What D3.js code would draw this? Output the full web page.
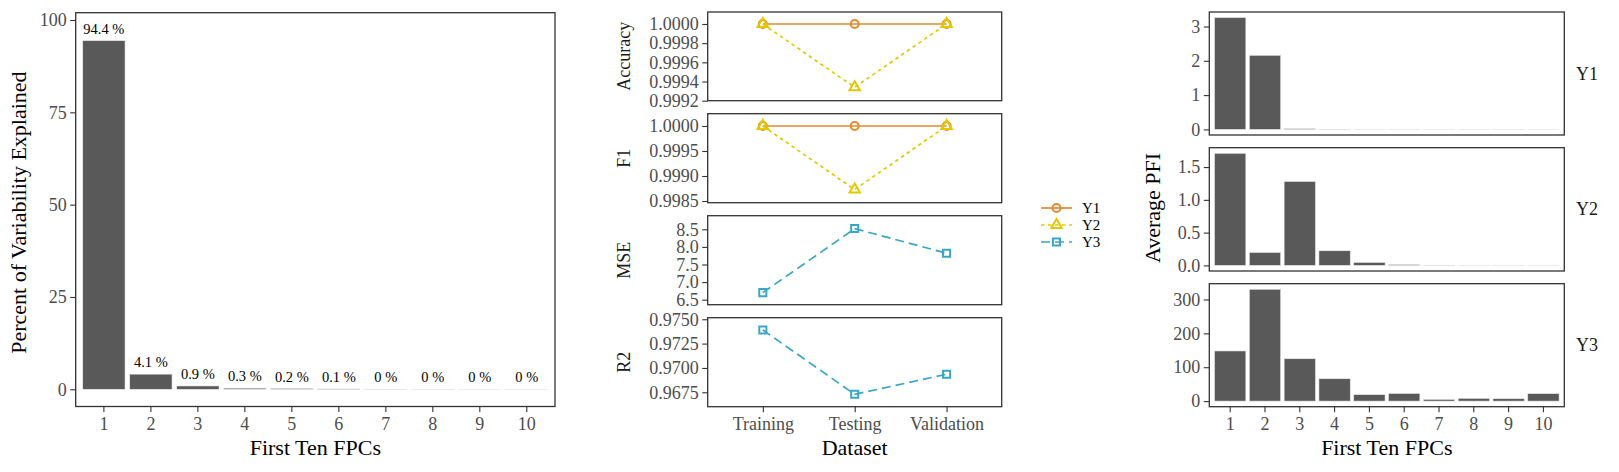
<!DOCTYPE html>
<html>
<head>
<meta charset="utf-8">
<script src="https://cdn.jsdelivr.net/npm/d3@7"></script>
<style>
  html, body { margin: 0; padding: 0; background: #fff; }
  svg { display: block; font-family: "Liberation Serif", "Times New Roman", serif; }
  .tick text { fill: #4d4d4d; font-size: 18px; font-family: "Liberation Serif", "Times New Roman", serif; }
  .tick line { stroke: #333; stroke-width: 1.1; }
  .panel-border { fill: none; stroke: #333; stroke-width: 1.3; }
  .bar { fill: #595959; stroke: #e6e6e6; stroke-width: 0.6; }
  .axis-title { font-size: 22px; fill: #000; }
  .facet-label { font-size: 18px; fill: #1a1a1a; }
  .bar-label { font-size: 14.5px; fill: #000; }
  .legend-text { font-size: 15px; fill: #000; }
</style>
</head>
<body>
<div id="chart"></div>
<script>
// ---- data ----
const fpcs = ['1', '2', '3', '4', '5', '6', '7', '8', '9', '10']
const varExplained = [94.4, 4.1, 0.9, 0.3, 0.2, 0.1, 0.03, 0.02, 0.01, 0.01]
const pctTicks = [0, 25, 50, 75, 100]

const datasets = ['Training', 'Testing', 'Validation']
const responses = ['Y1', 'Y2', 'Y3']
const accuracyY1 = [1.0, 1.0, 1.0]
const accuracyY2 = [1.0, 0.99934, 1.0]
const f1Y1 = [1.0, 1.0, 1.0]
const f1Y2 = [1.0, 0.99873, 1.0]
const mseY3 = [6.7, 8.52, 7.82]
const r2Y3 = [0.9739, 0.96729, 0.96935]
const accuracyTicks = [0.9992, 0.9994, 0.9996, 0.9998, 1.0]
const f1Ticks = [0.9985, 0.999, 0.9995, 1.0]
const mseTicks = [6.5, 7.0, 7.5, 8.0, 8.5]
const r2Ticks = [0.9675, 0.97, 0.9725, 0.975]

const pfiY1 = [3.26, 2.16, 0.02, 0.005, 0.004, 0.003, 0.002, 0.002, 0.002, 0.002]
const pfiY2 = [1.71, 0.197, 1.28, 0.223, 0.045, 0.012, 0.003, 0.002, 0.002, 0.002]
const pfiY3 = [148, 330, 125, 66, 19, 22.6, 5, 8, 7, 22]
const pfiY1Ticks = [0, 1, 2, 3]
const pfiY2Ticks = [0, 0.5, 1.0, 1.5]
const pfiY3Ticks = [0, 100, 200, 300]

const colors = { Y1: '#e48a2e', Y2: '#e3c800', Y3: '#3aa6c7' }
const dashes = { Y1: null, Y2: '3.5,3.5', Y3: '9,5' }
const shapes = { Y1: d3.symbolCircle, Y2: d3.symbolTriangle, Y3: d3.symbolSquare }
const shapeSize = { Y1: 50, Y2: 48, Y3: 50 }

const width = 1619
const height = 472
const TICK = 5.5

const svg = d3.select('#chart').append('svg').attr('width', width).attr('height', height)

function styleAxis(sel) {
  sel.attr('font-family', null).attr('font-size', null)
  sel.select('.domain').remove()
  sel.selectAll('.tick line').attr('stroke', '#333')
}

function border(x0, x1, top, bottom) {
  svg.append('rect').attr('class', 'panel-border')
    .attr('x', x0).attr('y', top).attr('width', x1 - x0).attr('height', bottom - top)
}

function fpcScale(x0, x1) {
  return d3.scaleBand().domain(fpcs).range([x0, x1]).paddingInner(0.1).paddingOuter(0.15)
}

function barPanel({ x0, x1, top, bottom, values, domain, ticks, fmt, showX }) {
  const x = fpcScale(x0, x1)
  const y = d3.scaleLinear().domain(domain).range([bottom, top])
  const g = svg.append('g')
  g.selectAll('rect').data(values).join('rect')
    .attr('class', 'bar')
    .attr('x', (d, i) => x(fpcs[i]))
    .attr('width', x.bandwidth())
    .attr('y', (d) => y(Math.max(0, d)))
    .attr('height', (d) => Math.abs(y(0) - y(d)))
  const ya = svg.append('g').attr('transform', `translate(${x0},0)`)
    .call(d3.axisLeft(y).tickValues(ticks).tickFormat(fmt).tickSize(TICK).tickPadding(3.5))
  styleAxis(ya)
  if (showX) {
    const xa = svg.append('g').attr('transform', `translate(0,${bottom})`)
      .call(d3.axisBottom(x).tickSize(TICK).tickPadding(5))
    styleAxis(xa)
  }
  border(x0, x1, top, bottom)
  return { x, y }
}

// ---- left: variability explained ----
const left = { x0: 75.7, x1: 555, top: 12.7, bottom: 406.5 }
const lp = barPanel({ ...left, values: varExplained, domain: [-4.66, 101.98], ticks: pctTicks, fmt: d3.format('d'), showX: true })
svg.append('g').selectAll('text').data(varExplained).join('text')
  .attr('class', 'bar-label')
  .attr('text-anchor', 'middle')
  .attr('x', (d, i) => lp.x(fpcs[i]) + lp.x.bandwidth() / 2)
  .attr('y', (d) => lp.y(d) - 7)
  .text((d) => `${Math.round(d * 10) / 10} %`)
svg.append('text').attr('class', 'axis-title').attr('text-anchor', 'middle')
  .attr('x', (left.x0 + left.x1) / 2).attr('y', 455).text('First Ten FPCs')
svg.append('text').attr('class', 'axis-title').attr('text-anchor', 'middle')
  .attr('transform', `translate(26,${(left.top + left.bottom) / 2 + 3}) rotate(-90)`)
  .text('Percent of Variability Explained')

// ---- middle: model metrics ----
const mid = { x0: 707.7, x1: 1001.7 }
const xd = d3.scalePoint().domain(datasets).range([mid.x0, mid.x1]).padding(0.6)

const metricPanels = [
  { label: 'Accuracy', top: 12, bottom: 100.7, domain: [0.9992, 1.000125], ticks: accuracyTicks, fmt: d3.format('.4f'),
    series: [{ key: 'Y1', values: accuracyY1 }, { key: 'Y2', values: accuracyY2 }] },
  { label: 'F1', top: 113.7, bottom: 202.7, domain: [0.998466, 1.000246], ticks: f1Ticks, fmt: d3.format('.4f'),
    series: [{ key: 'Y1', values: f1Y1 }, { key: 'Y2', values: f1Y2 }] },
  { label: 'MSE', top: 215.7, bottom: 304.7, domain: [6.358, 8.886], ticks: mseTicks, fmt: d3.format('.1f'),
    series: [{ key: 'Y3', values: mseY3 }] },
  { label: 'R2', top: 317.7, bottom: 406.7, domain: [0.96602, 0.97516], ticks: r2Ticks, fmt: d3.format('.4f'),
    series: [{ key: 'Y3', values: r2Y3 }] },
]

function drawLine(g, key, pts) {
  g.append('path').datum(pts)
    .attr('fill', 'none').attr('stroke', colors[key]).attr('stroke-width', 1.7)
    .attr('stroke-dasharray', dashes[key])
    .attr('d', d3.line().x((d) => d[0]).y((d) => d[1]))
}

function drawPoints(g, key, pts) {
  g.selectAll(null).data(pts).join('path')
    .attr('transform', (d) => `translate(${d[0]},${d[1]})`)
    .attr('d', d3.symbol().type(shapes[key]).size(shapeSize[key]))
    .attr('fill', 'none').attr('stroke', colors[key]).attr('stroke-width', 2)
}

metricPanels.forEach((p, pi) => {
  const y = d3.scaleLinear().domain(p.domain).range([p.bottom, p.top])
  const g = svg.append('g')
  p.series.forEach((s) => {
    const pts = s.values.map((v, i) => [xd(datasets[i]), y(v)])
    drawLine(g, s.key, pts)
    drawPoints(g, s.key, pts)
  })
  const ya = svg.append('g').attr('transform', `translate(${mid.x0},0)`)
    .call(d3.axisLeft(y).tickValues(p.ticks).tickFormat(p.fmt).tickSize(TICK).tickPadding(3.5))
  styleAxis(ya)
  border(mid.x0, mid.x1, p.top, p.bottom)
  svg.append('text').attr('class', 'facet-label').attr('text-anchor', 'middle')
    .attr('transform', `translate(630,${(p.top + p.bottom) / 2}) rotate(-90)`)
    .text(p.label)
  if (pi === metricPanels.length - 1) {
    const xa = svg.append('g').attr('transform', `translate(0,${p.bottom})`)
      .call(d3.axisBottom(xd).tickSize(TICK).tickPadding(5))
    styleAxis(xa)
  }
})
svg.append('text').attr('class', 'axis-title').attr('text-anchor', 'middle')
  .attr('x', (mid.x0 + mid.x1) / 2).attr('y', 455).text('Dataset')

// legend
const legend = svg.append('g')
responses.forEach((key, i) => {
  const cy = 208 + i * 17
  drawLine(legend, key, [[1041, cy], [1072, cy]])
  drawPoints(legend, key, [[1056.5, cy]])
  legend.append('text').attr('class', 'legend-text')
    .attr('x', 1082).attr('y', cy + 5).text(key)
})

// ---- right: average PFI ----
const right = { x0: 1209.3, x1: 1564.3 }
const pfiPanels = [
  { key: 'Y1', top: 12, bottom: 135, values: pfiY1, ticks: pfiY1Ticks, fmt: d3.format('d') },
  { key: 'Y2', top: 147.7, bottom: 271, values: pfiY2, ticks: pfiY2Ticks, fmt: d3.format('.1f') },
  { key: 'Y3', top: 283.7, bottom: 406.7, values: pfiY3, ticks: pfiY3Ticks, fmt: d3.format('d') },
]
pfiPanels.forEach((p, pi) => {
  const max = d3.max(p.values)
  barPanel({ x0: right.x0, x1: right.x1, top: p.top, bottom: p.bottom, values: p.values,
    domain: [-0.05 * max, 1.05 * max], ticks: p.ticks, fmt: p.fmt, showX: pi === pfiPanels.length - 1 })
  svg.append('text').attr('class', 'facet-label')
    .attr('x', 1576).attr('y', (p.top + p.bottom) / 2 + 6).text(p.key)
})
svg.append('text').attr('class', 'axis-title').attr('text-anchor', 'middle')
  .attr('x', (right.x0 + right.x1) / 2).attr('y', 455).text('First Ten FPCs')
svg.append('text').attr('class', 'axis-title').attr('text-anchor', 'middle')
  .attr('transform', `translate(1160,208) rotate(-90)`)
  .text('Average PFI')
</script>
</body>
</html>
